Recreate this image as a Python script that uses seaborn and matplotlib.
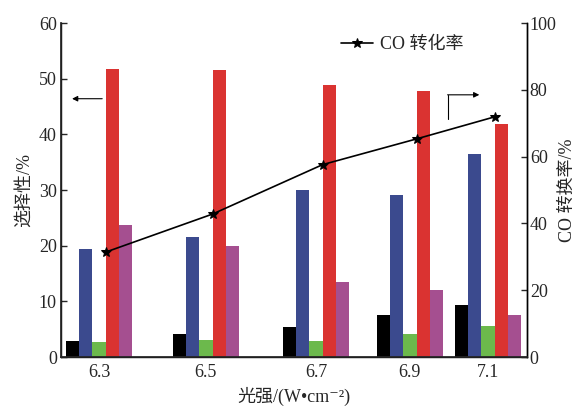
import numpy as np
import pandas as pd
import seaborn as sns
import matplotlib
matplotlib.use("Agg")
import matplotlib.pyplot as plt

# ---- data ----
categories = ["6.3", "6.5", "6.7", "6.9", "7.1"]
series_names = ["s1", "s2", "s3", "s4", "s5"]
black_vals = [2.9, 4.2, 5.4, 7.5, 9.4]
blue_vals = [19.4, 21.6, 30.0, 29.1, 36.5]
green_vals = [2.75, 3.1, 2.9, 4.1, 5.6]
red_vals = [51.7, 51.5, 48.8, 47.8, 41.8]
purple_vals = [23.7, 20.0, 13.4, 12.1, 7.5]
co_conversion = [31.4, 42.8, 57.6, 65.3, 71.9]

# layout positions of the groups (as in the original figure)
group_pos = [0.0, 0.994, 2.017, 2.89, 3.615]
colors = ["#000000", "#3b4a8e", "#6cb94c", "#da3331", "#a54f90"]

sns.set_theme(style="ticks")
plt.rcParams["font.family"] = ["Liberation Serif", "Noto Sans CJK SC", "DejaVu Sans"]

rows = []
for name, vals in zip(series_names, [black_vals, blue_vals, green_vals, red_vals, purple_vals]):
    for p, v in zip(group_pos, vals):
        rows.append({"x": p, "series": name, "value": v})
df = pd.DataFrame(rows)

fig = plt.figure(figsize=(5.77, 4.08), dpi=100)
ax = fig.add_axes([0.1057, 0.125, 0.8076, 0.8186])

bw = 0.1236
min_gap = min(np.diff(group_pos))
sns.barplot(data=df, x="x", y="value", hue="series", hue_order=series_names,
            palette=colors, saturation=1, native_scale=True,
            width=5 * bw / min_gap, linewidth=0, errorbar=None,
            legend=False, ax=ax)

ax.set_xlim(-0.353, 3.978)
ax.set_ylim(0, 60)
ax.set_xticks(group_pos)
ax.set_xticklabels(categories, fontsize=13)
ax.set_yticks(range(0, 61, 10))
ax.tick_params(axis="y", direction="in", length=4, labelsize=13, width=1, pad=3)
ax.tick_params(axis="x", length=0, labelsize=13, pad=5)
ax.set_xlabel("光强/(W•cm⁻²)", fontsize=13, labelpad=4)
ax.set_ylabel("选择性/%", fontsize=13, labelpad=4)
for s in ["left", "bottom", "right"]:
    ax.spines[s].set_linewidth(1.0)
    ax.spines[s].set_color("black")
ax.spines["top"].set_visible(False)

ax2 = ax.twinx()
line_df = pd.DataFrame({"x": [p + bw / 2 for p in group_pos], "co": co_conversion})
sns.lineplot(data=line_df, x="x", y="co", color="black", marker="*", markersize=7.5,
             markeredgecolor="black", linewidth=1.2, ax=ax2, label="CO 转化率")
ax2.set_ylim(0, 100)
ax2.set_yticks(range(0, 101, 20))
ax2.tick_params(axis="y", direction="in", length=4, labelsize=13, width=1, pad=2)
ax2.set_ylabel("CO 转换率/%", fontsize=13, labelpad=2)
ax2.spines["top"].set_visible(False)
ax2.spines["right"].set_linewidth(1.0)
ax2.spines["right"].set_color("black")
ax2.set_xlabel("")
ax2.legend(loc="upper left", bbox_to_anchor=(0.565, 1.01), frameon=False,
           fontsize=13, handlelength=1.8, handletextpad=0.4)

# direction arrows
ax.annotate("", xy=(-0.25, 46.4), xytext=(0.03, 46.4),
            arrowprops=dict(arrowstyle="-|>", color="black", lw=0.8,
                            mutation_scale=8, shrinkA=0, shrinkB=0))
ax2.annotate("", xy=(3.535, 78.5), xytext=(3.24, 78.5),
             arrowprops=dict(arrowstyle="-|>", color="black", lw=0.8,
                             mutation_scale=8, shrinkA=0, shrinkB=0))
ax2.plot([3.24, 3.24], [71.2, 78.5], color="black", lw=0.8)

fig.savefig("out.png", dpi=100)
